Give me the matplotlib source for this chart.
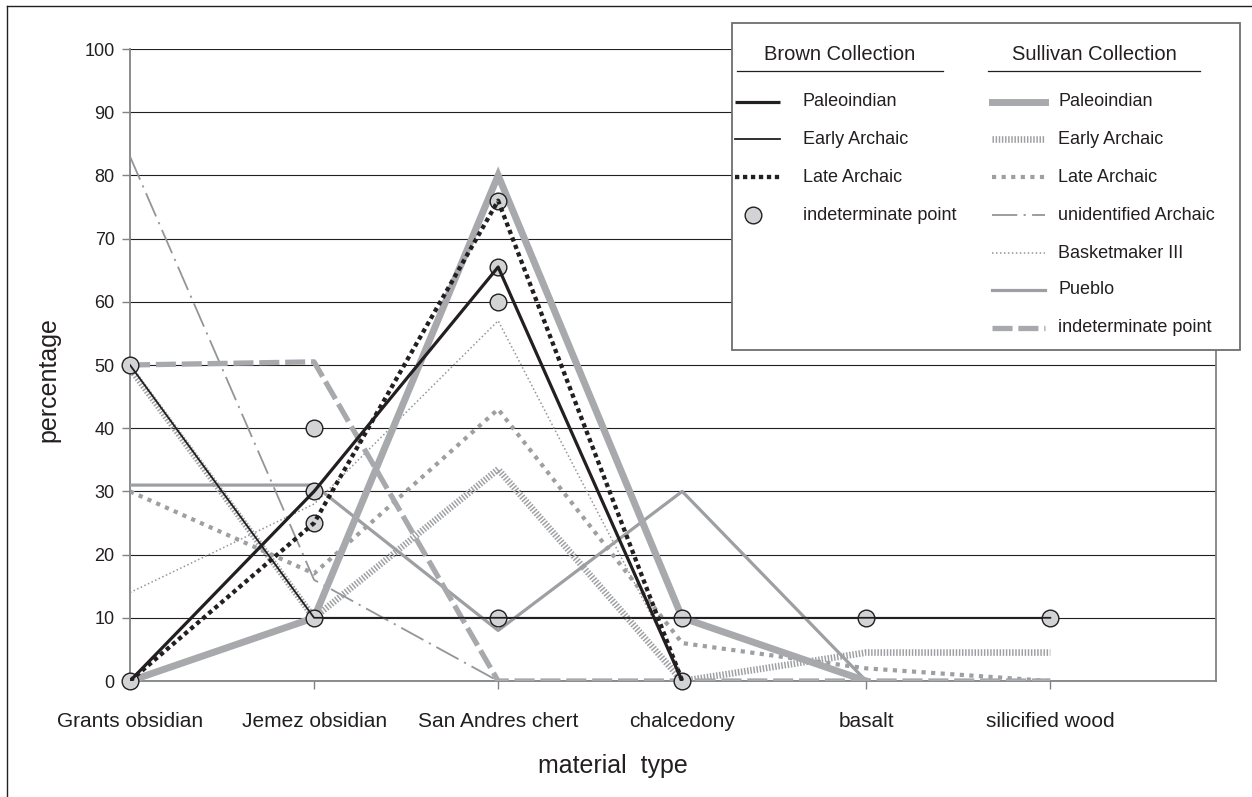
import numpy as np
import matplotlib
matplotlib.use("Agg")
import matplotlib.pyplot as plt
from matplotlib.lines import Line2D
from matplotlib.patches import Rectangle

plt.rcParams['font.family'] = ['Liberation Sans', 'DejaVu Sans']

# data
categories = ['Grants obsidian', 'Jemez obsidian', 'San Andres chert',
              'chalcedony', 'basalt', 'silicified wood']
nan = np.nan

# Brown Collection
brown_paleo = [0, 30, 65.5, 0, nan, nan]
brown_early = [50, 10, 10, 10, 10, 10]
brown_late = [0, 25, 76, 0, nan, nan]
brown_indet_cat = [0, 0, 1, 1, 1, 1, 2, 2, 2, 2, 3, 3, 4, 5]
brown_indet_val = [50, 0, 40, 30, 25, 10, 76, 65.5, 60, 10, 10, 0, 10, 10]

# Sullivan Collection
sull_paleo = [0, 10, 80, 10, 0, nan]
sull_early = [49.5, 10, 33.5, 0, 4.5, 4.5]
sull_late = [30, 17, 43, 6, 2, 0]
sull_unid = [83, 16, 0, nan, nan, nan]
sull_bm3 = [14, 28, 57, 1, nan, nan]
sull_pueblo = [31, 31, 8, 30, 0, nan]
sull_indet = [50, 50.5, 0, 0, 0, 0]

brown_labels = ['Paleoindian', 'Early Archaic', 'Late Archaic', 'indeterminate point']
sull_labels = ['Paleoindian', 'Early Archaic', 'Late Archaic', 'unidentified Archaic',
               'Basketmaker III', 'Pueblo', 'indeterminate point']

BLACK = '#231f20'
GRAY = '#a7a9ac'
MGRAY = '#9d9fa2'
DGRAY = '#939598'

# line styles
st_b_paleo = dict(color=BLACK, lw=2.3, solid_capstyle='butt')
st_b_early = dict(color=BLACK, lw=1.3)
st_b_late = dict(color=BLACK, lw=3.1, dashes=(1.0, 0.85))
st_s_paleo = dict(color=GRAY, lw=5.0, solid_joinstyle='miter')
st_s_early = dict(color=MGRAY, lw=4.8, dashes=(0.22, 0.25))
st_s_late = dict(color=MGRAY, lw=3.0, dashes=(1.0, 1.3))
st_s_unid = dict(color=DGRAY, lw=1.3, dashes=(14, 3.5, 1.2, 3.5))
st_s_bm3 = dict(color=DGRAY, lw=1.1, dashes=(1.0, 1.6))
st_s_pueblo = dict(color=MGRAY, lw=2.3)
st_s_indet = dict(color=GRAY, lw=3.8, dashes=(3.8, 1.1))
circle = dict(marker='o', ms=12, mfc='#d1d3d4', mec=BLACK, mew=1.0, ls='none')

W, H = 1252, 797
def fx(x):
    return x / W
def fy(y):
    return 1 - y / H

fig = plt.figure(figsize=(W / 100, H / 100), dpi=100)
ax = fig.add_axes([fx(130), fy(681), (1216 - 130) / W, (681 - 49) / H])

xs = np.arange(len(categories))
for vals, st in [(sull_unid, st_s_unid), (sull_bm3, st_s_bm3), (sull_pueblo, st_s_pueblo),
                 (sull_late, st_s_late), (sull_early, st_s_early), (sull_paleo, st_s_paleo),
                 (sull_indet, st_s_indet)]:
    ax.plot(xs, vals, zorder=3, **st)

ax.plot(brown_indet_cat, brown_indet_val, zorder=4, clip_on=False, **circle)

for vals, st in [(brown_early, st_b_early), (brown_paleo, st_b_paleo), (brown_late, st_b_late)]:
    ax.plot(xs, vals, zorder=5, **st)

ax.set_xlim(0, 5.9)
ax.set_ylim(0, 100)
ax.set_yticks(np.arange(0, 101, 10))
ax.set_xticks(xs)
ax.set_xticklabels(categories)
ax.yaxis.grid(True, color=BLACK, lw=0.8)
ax.set_axisbelow(True)
for s in ['left', 'bottom', 'right']:
    ax.spines[s].set_color('#808285')
    ax.spines[s].set_linewidth(1.3)
ax.spines['top'].set_visible(False)
ax.tick_params(axis='y', direction='out', length=6, width=1, color='#808285',
               labelsize=13, pad=5, labelcolor=BLACK)
ax.tick_params(axis='x', direction='out', length=6, width=1, color='#808285',
               labelsize=15, pad=16, labelcolor=BLACK)

fig.text(fx(613), fy(766), 'material  type', fontsize=18, ha='center', va='center', color=BLACK)
fig.text(fx(48), fy(380), 'percentage', fontsize=18, ha='center', va='center',
         rotation=90, color=BLACK)

# legend box drawn by hand
fig.add_artist(Rectangle((fx(732), fy(350)), (1240 - 732) / W, (350 - 23) / H,
                         transform=fig.transFigure, facecolor='white',
                         edgecolor='#6d6e71', lw=1.3, zorder=10))

def leg_line(x0, x1, y, st):
    fig.add_artist(Line2D([fx(x0), fx(x1)], [fy(y), fy(y)], transform=fig.transFigure,
                          zorder=11, **st))

fig.text(fx(840), fy(55), 'Brown Collection', fontsize=14.5, ha='center', va='center',
         color=BLACK, zorder=11)
leg_line(737, 943, 71, dict(color=BLACK, lw=0.9))
fig.text(fx(1094), fy(55), 'Sullivan Collection', fontsize=14.5, ha='center', va='center',
         color=BLACK, zorder=11)
leg_line(988, 1200, 71, dict(color=BLACK, lw=0.9))

rows = [102, 139, 177, 215, 253, 290, 328]
for lab, st, y in zip(brown_labels[:3], [st_b_paleo, st_b_early, st_b_late], rows):
    leg_line(735, 780, y, st)
    fig.text(fx(803), fy(y), lab, fontsize=13, ha='left', va='center', color=BLACK, zorder=11)
fig.add_artist(Line2D([fx(753)], [fy(rows[3])], transform=fig.transFigure, zorder=11, **circle))
fig.text(fx(803), fy(rows[3]), brown_labels[3], fontsize=13, ha='left', va='center',
         color=BLACK, zorder=11)

sull_styles = [st_s_paleo, st_s_early, st_s_late, st_s_unid, st_s_bm3, st_s_pueblo, st_s_indet]
for lab, st, y in zip(sull_labels, sull_styles, rows):
    leg_line(992, 1045, y, st)
    fig.text(fx(1058), fy(y), lab, fontsize=13, ha='left', va='center', color=BLACK, zorder=11)

# outer frame (left and top edges)
fig.add_artist(Line2D([fx(7), fx(7)], [0, fy(6)], transform=fig.transFigure, color=BLACK, lw=1))
fig.add_artist(Line2D([fx(7), 1], [fy(6), fy(6)], transform=fig.transFigure, color=BLACK, lw=1))

fig.savefig('out.png', dpi=100)
